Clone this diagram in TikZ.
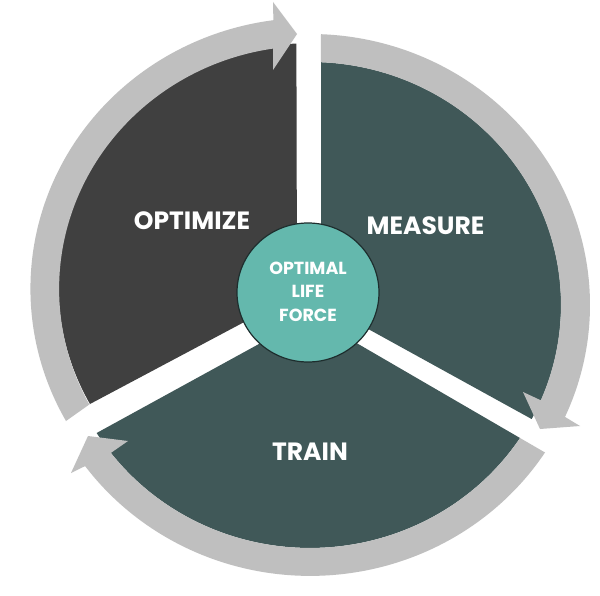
\documentclass[tikz,border=0pt]{standalone}
\usepackage{fontspec}
\setmainfont{Poppins}
\begin{document}
\begin{tikzpicture}[x=1pt,y=1pt,
  darkseg/.style={fill=darkgray40,draw=none},
  tealseg/.style={fill=teal40,draw=none},
  ringarrow/.style={fill=ringgray,draw=none},
  hub/.style={fill=hubteal,draw=hubline,line width=1.2pt},
  biglabel/.style={text=white,font=\bfseries\fontsize{25}{28}\selectfont,inner sep=0pt},
  hublabel/.style={text=white,font=\bfseries\fontsize{17.5}{23.5}\selectfont,align=center,inner sep=0pt}]
\definecolor{darkgray40}{HTML}{404040}
\definecolor{teal40}{HTML}{405858}
\definecolor{ringgray}{HTML}{BFBFBF}
\definecolor{hubteal}{HTML}{64B8AD}
\definecolor{hubline}{HTML}{1E2E2E}
\useasboundingbox[fill=white] (0,0) rectangle (600,-596);
% sectors
\path[darkseg] (297,-294) -- (90,-404)
  arc[start angle=209, end angle=93, x radius=251, y radius=243] -- cycle;
\path[tealseg] (321,-303) -- (321,-62.2)
  arc[start angle=87.5, end angle=-28, x radius=251, y radius=243] -- cycle;
\path[tealseg] (310,-316) -- (520,-438)
  arc[start angle=-33.2, end angle=-148.2, x radius=251, y radius=243] -- cycle;
% arrows
\path[ringarrow] (90,-404) -- (66,-421)
  arc[start angle=209.2, end angle=97.6, x radius=280, y radius=271]
  -- (273,-2) -- (297,-34) -- (273,-70) -- (273,-48.6)
  arc[start angle=98.5, end angle=208.4, x radius=251, y radius=243] -- cycle;
\path[ringarrow] (321,-34.2)
  arc[start angle=87.75, end angle=-24.4, x radius=280, y radius=271]
  -- (580,-426) -- (540,-429) -- (523,-392) -- (540.8,-400.3)
  arc[start angle=-23.1, end angle=87.5, x radius=251, y radius=243] -- cycle;
\path[ringarrow] (520,-438) -- (545,-452.5)
  arc[start angle=-33, end angle=-143.5, x radius=280, y radius=271]
  -- (71,-473) -- (88,-436) -- (128,-441) -- (110.9,-452.9)
  arc[start angle=-142.5, end angle=-33.2, x radius=251, y radius=243] -- cycle;
% hub
\path[hub] (308,-292.5) ellipse[x radius=71, y radius=69.5];
\node[hublabel] (hubtext) at (308,-291.5) {OPTIMAL\\LIFE\\FORCE};
% labels
\node[biglabel] (optimize) at (192,-220.5) {OPTIMIZE};
\node[biglabel] (measure) at (425.5,-225.5) {MEASURE};
\node[biglabel] (train) at (310,-451.5) {TRAIN};
\end{tikzpicture}
\end{document}
